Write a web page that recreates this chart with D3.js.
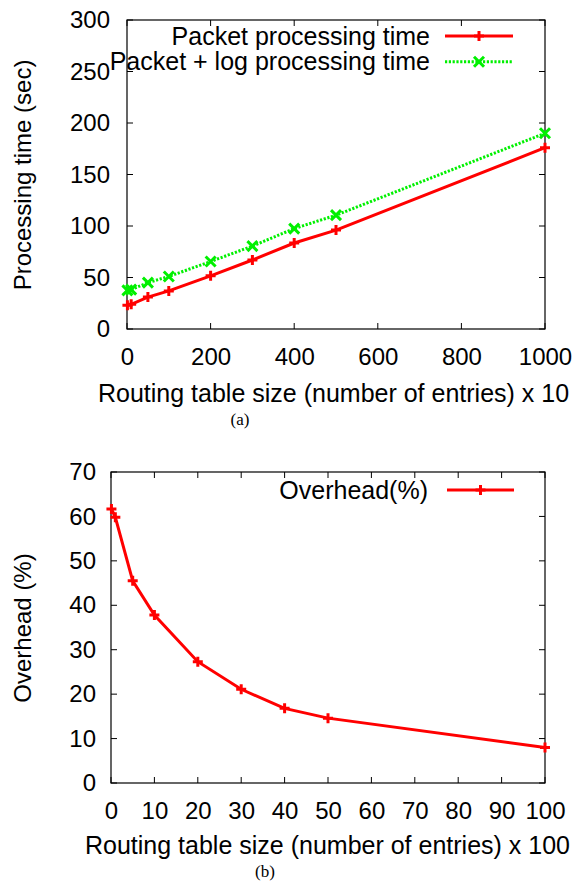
<!DOCTYPE html>
<html><head><meta charset="utf-8">
<script src="https://cdn.jsdelivr.net/npm/d3@7"></script>
<style>
body{margin:0;background:#fff;}
text{font-family:"Liberation Sans",Arial,Helvetica,sans-serif;}
</style></head>
<body>
<svg id="c" width="574" height="881"></svg>
<script>
// Top chart data (x in units of 10 entries)
const sizesA = [1, 10, 50, 100, 200, 300, 400, 500, 1000];
const packetTime = [23, 24, 31, 37, 51.6, 67, 83.5, 96, 176];
const packetLogTime = [37.5, 38.2, 45, 51, 65.5, 80.5, 97.5, 110.5, 190];
const xTicksA = [0, 200, 400, 600, 800, 1000];
const yTicksA = [0, 50, 100, 150, 200, 250, 300];
// Bottom chart data (x in units of 100 entries)
const sizesB = [0.1, 1, 5, 10, 20, 30, 40, 50, 100];
const overhead = [61.7, 59.8, 45.5, 37.8, 27.3, 21.1, 16.8, 14.6, 8.0];
const xTicksB = [0, 10, 20, 30, 40, 50, 60, 70, 80, 90, 100];
const yTicksB = [0, 10, 20, 30, 40, 50, 60, 70];

const svg = d3.select("#c");
const RED = "#ff0000", GREEN = "#00f000";
const FONT = '"Liberation Sans",Arial,sans-serif';

function marker(g, type, x, y, color) {
  const s = 5;
  if (type === "plus") {
    g.append("path").attr("d", `M${x-s},${y}H${x+s}M${x},${y-s}V${y+s}`)
      .attr("stroke", color).attr("stroke-width", 3).attr("fill", "none");
  } else {
    g.append("path").attr("d", `M${x-s},${y-s}L${x+s},${y+s}M${x-s},${y+s}L${x+s},${y-s}`)
      .attr("stroke", color).attr("stroke-width", 3).attr("fill", "none");
  }
}

function panel(cfg) {
  const g = svg.append("g");
  const x = d3.scaleLinear().domain(cfg.xDomain).range([cfg.left, cfg.right]);
  const y = d3.scaleLinear().domain(cfg.yDomain).range([cfg.bottom, cfg.top]);
  const tl = 6;
  const axB = d3.axisBottom(x).tickValues(cfg.xTicks).tickSize(0).tickPadding(cfg.xPad).tickFormat(d3.format("d"));
  const axL = d3.axisLeft(y).tickValues(cfg.yTicks).tickSize(0).tickPadding(cfg.yPad).tickFormat(d3.format("d"));
  const gb = g.append("g").attr("transform", `translate(0,${cfg.bottom})`).call(axB);
  const gl = g.append("g").attr("transform", `translate(${cfg.left},0)`).call(axL);
  [gb, gl].forEach(a => { a.select(".domain").remove();
    a.selectAll("text").attr("font-size", 24).attr("fill", "#000").style("font-family", FONT); });
  cfg.xTicks.forEach(t => {
    g.append("line").attr("x1", x(t)).attr("x2", x(t)).attr("y1", cfg.bottom).attr("y2", cfg.bottom - tl).attr("stroke", "#000");
    g.append("line").attr("x1", x(t)).attr("x2", x(t)).attr("y1", cfg.top).attr("y2", cfg.top + tl).attr("stroke", "#000");
  });
  cfg.yTicks.forEach(t => {
    g.append("line").attr("y1", y(t)).attr("y2", y(t)).attr("x1", cfg.left).attr("x2", cfg.left + tl).attr("stroke", "#000");
    g.append("line").attr("y1", y(t)).attr("y2", y(t)).attr("x1", cfg.right).attr("x2", cfg.right - tl).attr("stroke", "#000");
  });
  g.append("rect").attr("x", cfg.left).attr("y", cfg.top)
    .attr("width", cfg.right - cfg.left).attr("height", cfg.bottom - cfg.top)
    .attr("fill", "none").attr("stroke", "#000").attr("stroke-width", 1.2);
  cfg.series.forEach((s, i) => {
    const line = d3.line().x((d, j) => x(cfg.xs[j])).y(d => y(d));
    g.append("path").datum(s.values).attr("d", line).attr("fill", "none")
      .attr("stroke", s.color).attr("stroke-width", 3)
      .attr("stroke-dasharray", s.dash || null);
    s.values.forEach((v, j) => marker(g, s.marker, x(cfg.xs[j]), y(v), s.color));
    const ly = cfg.legendY + i * 25.7;
    g.append("text").attr("x", cfg.legendTextX).attr("y", ly).attr("dy", "0.35em")
      .attr("text-anchor", "end").attr("font-size", 25).text(s.name);
    g.append("line").attr("x1", cfg.legendX1).attr("x2", cfg.legendX2).attr("y1", ly).attr("y2", ly)
      .attr("stroke", s.color).attr("stroke-width", 3).attr("stroke-dasharray", s.dash || null);
    marker(g, s.marker, (cfg.legendX1 + cfg.legendX2) / 2, ly, s.color);
  });
  g.append("text").attr("transform", `translate(${cfg.yLabelX},${cfg.yLabelY}) rotate(-90)`)
    .attr("text-anchor", "middle").attr("dy", "0.35em").attr("font-size", 24).text(cfg.yLabel);
  g.append("text").attr("x", cfg.xLabelX).attr("y", cfg.xLabelY).attr("dy", "0.35em")
    .attr("text-anchor", "start").attr("font-size", 25).text(cfg.xLabel);
  g.append("text").attr("x", cfg.capX).attr("y", cfg.capY).attr("dy", "0.35em")
    .attr("text-anchor", "middle").attr("font-size", 17)
    .style("font-family", '"Liberation Serif","Times New Roman",serif').text(cfg.caption);
}

panel({
  left: 127, right: 545, top: 20, bottom: 329,
  xDomain: [0, 1000], yDomain: [0, 300], xTicks: xTicksA, yTicks: yTicksA, xs: sizesA,
  xPad: 19, yPad: 17,
  series: [
    {name: "Packet processing time", values: packetTime, color: RED, marker: "plus"},
    {name: "Packet + log processing time", values: packetLogTime, color: GREEN, marker: "cross", dash: "2.2,1.6"}
  ],
  legendY: 36, legendTextX: 430, legendX1: 445, legendX2: 513,
  yLabel: "Processing time (sec)", yLabelX: 23, yLabelY: 175,
  xLabel: "Routing table size (number of entries) x 10", xLabelX: 98, xLabelY: 393,
  caption: "(a)", capX: 240, capY: 419
});

panel({
  left: 111, right: 545, top: 472, bottom: 783,
  xDomain: [0, 100], yDomain: [0, 70], xTicks: xTicksB, yTicks: yTicksB, xs: sizesB,
  xPad: 19, yPad: 15,
  series: [
    {name: "Overhead(%)", values: overhead, color: RED, marker: "plus"}
  ],
  legendY: 490, legendTextX: 428, legendX1: 447, legendX2: 514,
  yLabel: "Overhead (%)", yLabelX: 23, yLabelY: 628,
  xLabel: "Routing table size (number of entries) x 100", xLabelX: 85, xLabelY: 845,
  caption: "(b)", capX: 265, capY: 871
});
</script>
</body></html>
